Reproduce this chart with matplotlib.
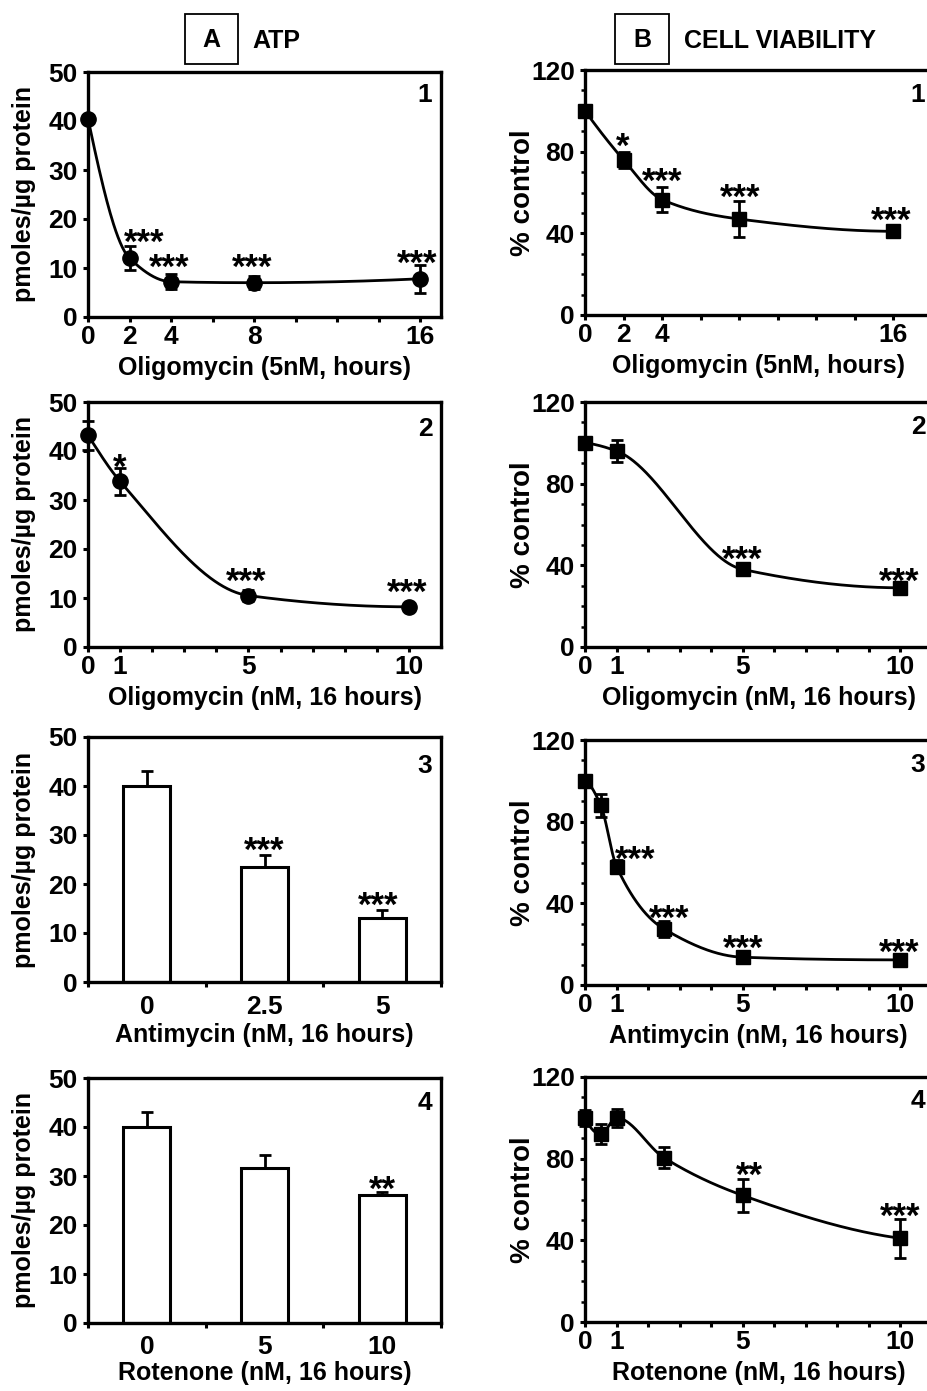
import numpy as np
import matplotlib
matplotlib.use("Agg")
import matplotlib.pyplot as plt
from matplotlib.patches import Rectangle

plt.rcParams['font.family'] = ['Liberation Sans', 'DejaVu Sans']
plt.rcParams['font.weight'] = 'bold'

# ---- data ----
# A1: ATP vs time with oligomycin 5nM
a1_x = [0, 2, 4, 8, 16]
a1_y = [40.5, 12.0, 7.2, 7.0, 7.8]
a1_err = [0.8, 2.5, 1.5, 1.3, 2.8]
a1_stars = ['', '***', '***', '***', '***']

# A2: ATP vs oligomycin dose
a2_x = [0, 1, 5, 10]
a2_y = [43.2, 33.8, 10.5, 8.2]
a2_err = [3.0, 2.8, 1.2, 0.5]
a2_stars = ['', '*', '***', '***']

# A3: ATP vs antimycin (bars)
a3_cats = ['0', '2.5', '5']
a3_y = [40.0, 23.5, 13.1]
a3_err = [3.0, 2.4, 1.5]
a3_stars = ['', '***', '***']

# A4: ATP vs rotenone (bars)
a4_cats = ['0', '5', '10']
a4_y = [40.0, 31.7, 26.1]
a4_err = [3.1, 2.5, 0.6]
a4_stars = ['', '', '**']

# B1: viability vs time with oligomycin 5nM
b1_x = [0, 2, 4, 8, 16]
b1_y = [100, 76, 56.5, 47, 41]
b1_err = [2, 4, 6, 9, 3]
b1_stars = ['', '*', '***', '***', '***']

# B2: viability vs oligomycin dose
b2_x = [0, 1, 5, 10]
b2_y = [100, 96, 38, 29]
b2_err = [1.5, 5.5, 2, 2]
b2_stars = ['', '', '***', '***']

# B3: viability vs antimycin dose
b3_x = [0, 0.5, 1, 2.5, 5, 10]
b3_y = [100, 88, 58, 27.5, 13.6, 12.3]
b3_err = [3, 5.5, 3, 4, 1.5, 1]
b3_stars = ['', '', '***', '***', '***', '***']

# B4: viability vs rotenone dose
b4_x = [0, 0.5, 1, 2.5, 5, 10]
b4_y = [100, 92, 100, 80.5, 62, 41]
b4_err = [4, 5, 4.5, 5, 8, 9.5]
b4_stars = ['', '', '', '', '**', '***']

W, H = 927, 1391


def pchip(x, y, xs):
    # smooth monotone cubic through the points, used only to draw the connecting line
    x = np.asarray(x, float); y = np.asarray(y, float)
    h = np.diff(x); d = np.diff(y) / h
    n = len(x); m = np.zeros(n)
    for k in range(1, n - 1):
        if d[k - 1] * d[k] > 0:
            w1 = 2 * h[k] + h[k - 1]; w2 = h[k] + 2 * h[k - 1]
            m[k] = (w1 + w2) / (w1 / d[k - 1] + w2 / d[k])
    def end(h0, h1, d0, d1):
        s = ((2 * h0 + h1) * d0 - h0 * d1) / (h0 + h1)
        if np.sign(s) != np.sign(d0):
            s = 0
        elif np.sign(d0) != np.sign(d1) and abs(s) > abs(3 * d0):
            s = 3 * d0
        return s
    m[0] = end(h[0], h[1], d[0], d[1])
    m[-1] = end(h[-1], h[-2], d[-1], d[-2])
    i = np.clip(np.searchsorted(x, xs) - 1, 0, n - 2)
    t = (xs - x[i]) / h[i]
    h00 = 2 * t**3 - 3 * t**2 + 1; h10 = t**3 - 2 * t**2 + t
    h01 = -2 * t**3 + 3 * t**2; h11 = t**3 - t**2
    return h00 * y[i] + h10 * h[i] * m[i] + h01 * y[i + 1] + h11 * h[i] * m[i + 1]


def make_ax(left, top, right, height=245):
    return fig.add_axes([left / W, 1 - (top + height) / H, (right - left) / W, height / H])


def style(ax, ylabel, xlabel, ysize=18):
    for s in ax.spines.values():
        s.set_linewidth(2.4)
    ax.tick_params(direction='out', length=3.8, width=2.2, labelsize=19)
    ax.tick_params(axis='x', pad=2)
    ax.tick_params(axis='y', pad=3.5)
    ax.tick_params(which='minor', direction='out', length=2.8, width=1.8)
    ax.set_ylabel(ylabel, fontsize=ysize, fontweight='bold')
    ax.set_xlabel(xlabel, fontsize=18, fontweight='bold')
    ax.yaxis.set_label_coords(-0.18, 0.5)
    ax.yaxis.label.set_va('center')
    ax.xaxis.set_label_coords(0.5, -0.21)
    ax.xaxis.label.set_va('center')


def stars(ax, xs, ys, labels):
    for i, lab in enumerate(labels):
        if not lab:
            continue
        ax.annotate(lab, xy=(xs[i], ys[i]), xytext=(0, -14), textcoords='offset points',
                    ha='center', va='baseline', fontsize=25, fontweight='bold',
                    annotation_clip=False)


def line_panel(ax, x, y, err, marker, ms, ymax, xmax):
    xs = np.linspace(x[0], x[-1], 300)
    ax.plot(xs, pchip(x, y, xs), color='black', lw=2.0, clip_on=False)
    ax.errorbar(x, y, yerr=err, fmt=marker, color='black', ms=ms, elinewidth=2.0,
                capsize=4.5, capthick=2.0, clip_on=False, zorder=3)
    ax.set_xlim(0, xmax)
    ax.set_ylim(0, ymax)


def bar_panel(ax, cats, y, err):
    pos = np.arange(len(cats))
    ax.bar(pos, y, width=0.4, color='white', edgecolor='black', linewidth=2.2)
    ax.errorbar(pos, y, yerr=[np.zeros(len(err)), err], fmt='none', ecolor='black',
                elinewidth=2.0, capsize=4, capthick=2.0)
    ax.set_xlim(-0.5, len(cats) - 0.5)
    ax.set_ylim(0, 50)
    ax.set_xticks(pos)
    ax.set_xticklabels(cats)
    ax.set_xticks(np.arange(len(cats) + 1) - 0.5, minor=True)


def bar_ticks(ax):
    ax.tick_params(axis='x', which='major', length=0, pad=9)
    ax.tick_params(axis='x', which='minor', length=3.8, width=2.2)


def set_xt(ax, ticks, shown):
    ax.set_xticks(ticks)
    ax.set_xticklabels([str(t) if t in shown else '' for t in ticks])


def b_yaxis(ax):
    ax.set_yticks([0, 40, 80, 120])
    ax.set_yticks(np.arange(0, 121, 10), minor=True)


fig = plt.figure(figsize=(W / 100, H / 100), dpi=100)

ylab_a = 'pmoles/µg protein'
ylab_b = '% control'
tops_a = [72, 402, 737, 1078]
tops_b = [70, 402, 740, 1077]
AL, AR = 88, 441
BL, BR = 585, 932
NUM = 19
YB = 20

# ---- column A ----
ax = make_ax(AL, tops_a[0], AR)
line_panel(ax, a1_x, a1_y, a1_err, 'o', 11, 50, 17)
set_xt(ax, list(range(0, 17, 2)), [0, 2, 4, 8, 16])
ax.set_yticks(range(0, 51, 10))
style(ax, ylab_a, 'Oligomycin (5nM, hours)')
stars(ax, [0, 2.7, 3.9, 7.9, 15.85], [0, 17, 11.9, 12, 12.7], a1_stars)
ax.text(0.955, 0.905, '1', transform=ax.transAxes, ha='center', va='center', fontsize=NUM)

ax = make_ax(AL, tops_a[1], AR)
line_panel(ax, a2_x, a2_y, a2_err, 'o', 11, 50, 11)
set_xt(ax, list(range(0, 11)), [0, 1, 5, 10])
ax.set_yticks(range(0, 51, 10))
style(ax, ylab_a, 'Oligomycin (nM, 16 hours)')
stars(ax, [0, 1.0, 4.93, 9.94], [0, 38.4, 15.3, 12.9], a2_stars)
ax.text(0.955, 0.89, '2', transform=ax.transAxes, ha='center', va='center', fontsize=NUM)

ax = make_ax(AL, tops_a[2], AR)
bar_panel(ax, a3_cats, a3_y, a3_err)
ax.set_yticks(range(0, 51, 10))
style(ax, ylab_a, 'Antimycin (nM, 16 hours)')
bar_ticks(ax)
ax.xaxis.set_label_coords(0.5, -0.215)
stars(ax, [0, 1.0, 1.97], [0, 28.6, 17.5], a3_stars)
ax.text(0.955, 0.88, '3', transform=ax.transAxes, ha='center', va='center', fontsize=NUM)

ax = make_ax(AL, tops_a[3], AR)
bar_panel(ax, a4_cats, a4_y, a4_err)
ax.set_yticks(range(0, 51, 10))
style(ax, ylab_a, 'Rotenone (nM, 16 hours)')
bar_ticks(ax)
ax.xaxis.set_label_coords(0.5, -0.205)
stars(ax, [0, 0, 2.0], [0, 0, 29], a4_stars)
ax.text(0.955, 0.9, '4', transform=ax.transAxes, ha='center', va='center', fontsize=NUM)

# ---- column B ----
ax = make_ax(BL, tops_b[0], BR)
line_panel(ax, b1_x, b1_y, b1_err, 's', 9.5, 120, 18)
set_xt(ax, list(range(0, 17, 2)), [0, 2, 4, 16])
b_yaxis(ax)
style(ax, ylab_b, 'Oligomycin (5nM, hours)', YB)
stars(ax, [0, 1.97, 4.0, 8.04, 15.9], [0, 86.8, 69.6, 62.2, 50.5], b1_stars)
ax.text(0.96, 0.9, '1', transform=ax.transAxes, ha='center', va='center', fontsize=NUM)

ax = make_ax(BL, tops_b[1], BR)
line_panel(ax, b2_x, b2_y, b2_err, 's', 9.5, 120, 11)
set_xt(ax, list(range(0, 11)), [0, 1, 5, 10])
b_yaxis(ax)
style(ax, ylab_b, 'Oligomycin (nM, 16 hours)', YB)
stars(ax, [0, 0, 4.98, 9.95], [0, 0, 47.5, 36.3], b2_stars)
ax.text(0.96, 0.9, '2', transform=ax.transAxes, ha='center', va='center', fontsize=NUM)

ax = make_ax(BL, tops_b[2], BR)
line_panel(ax, b3_x, b3_y, b3_err, 's', 9.5, 120, 11)
set_xt(ax, list(range(0, 11)), [0, 1, 5, 10])
b_yaxis(ax)
style(ax, ylab_b, 'Antimycin (nM, 16 hours)', YB)
stars(ax, [0, 0, 1.58, 2.66, 5.0, 9.95], [0, 0, 65.7, 36.8, 22.5, 20.6], b3_stars)
ax.text(0.96, 0.9, '3', transform=ax.transAxes, ha='center', va='center', fontsize=NUM)

ax = make_ax(BL, tops_b[3], BR)
line_panel(ax, b4_x, b4_y, b4_err, 's', 9.5, 120, 11)
set_xt(ax, list(range(0, 11)), [0, 1, 5, 10])
b_yaxis(ax)
style(ax, ylab_b, 'Rotenone (nM, 16 hours)', YB)
stars(ax, [0, 0, 0, 0, 5.2, 9.98], [0, 0, 0, 0, 76, 56], b4_stars)
ax.text(0.96, 0.9, '4', transform=ax.transAxes, ha='center', va='center', fontsize=NUM)

# ---- headers ----
for x0, x1, letter, title, tx in [(185, 238, 'A', 'ATP', 252), (615, 669, 'B', 'CELL VIABILITY', 684)]:
    fig.add_artist(Rectangle((x0 / W, 1 - 64 / H), (x1 - x0) / W, 50 / H, transform=fig.transFigure,
                             fill=False, edgecolor='black', lw=1.3))
    fig.text((x0 + x1) / 2 / W, 1 - 40 / H, letter, ha='center', va='center', fontsize=18)
    fig.text(tx / W, 1 - 41 / H, title, ha='left', va='center', fontsize=18)

fig.savefig('out.png', dpi=100)
